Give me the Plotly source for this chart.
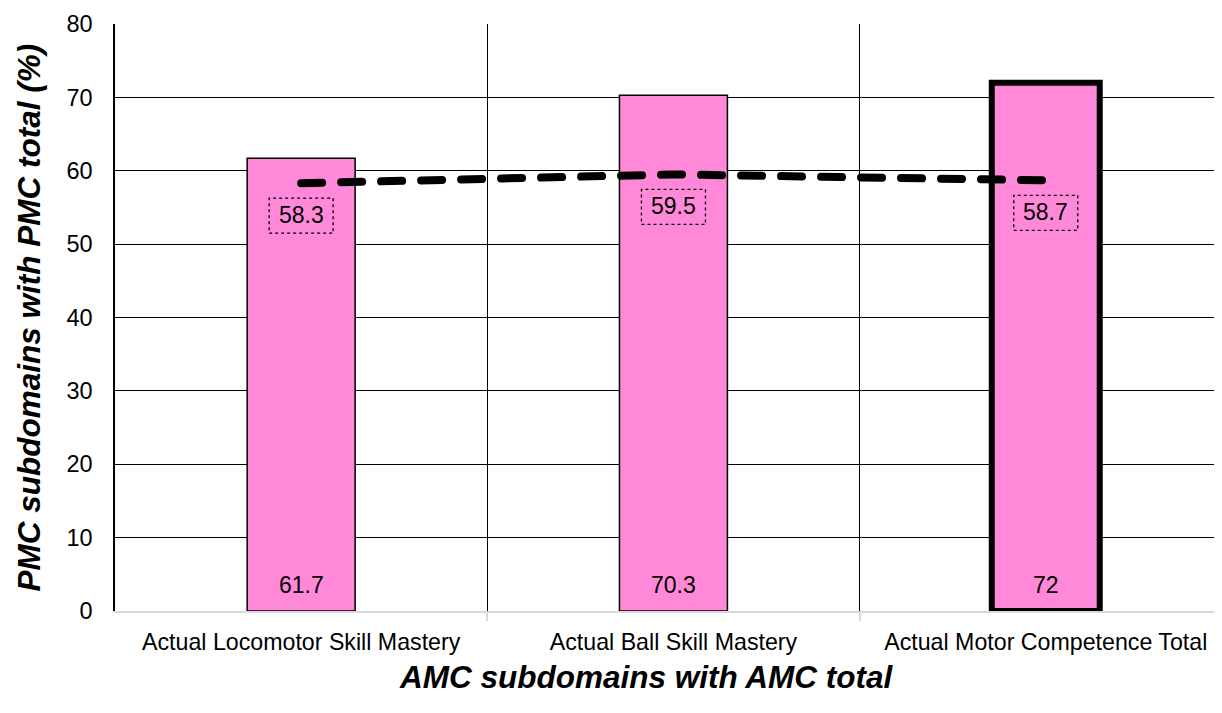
import plotly.graph_objects as go

categories = ["Actual Locomotor Skill Mastery", "Actual Ball Skill Mastery", "Actual Motor Competence Total"]
amc_values = [61.7, 70.3, 72]
pmc_values = [58.3, 59.5, 58.7]
bar_line_widths = [1.5, 1.5, 6]
y_ticks = [0, 10, 20, 30, 40, 50, 60, 70, 80]

FONT = "Liberation Sans, Arial, sans-serif"
PINK = "#FF89D8"

# the page body adds an 8px offset; margins compensate for it
OFF = 8
W, H = 1222, 713
ML, MR, MT = 115 - OFF, 0, 24 - OFF
PH = 587
MB = H - MT - PH
PW = W - ML - MR
CAT_W = 372.3

xpos = list(range(len(categories)))

fig = go.Figure()
fig.add_trace(go.Bar(
    x=xpos, y=amc_values, width=0.29,
    marker=dict(color=PINK, line=dict(color="black", width=bar_line_widths)),
    hoverinfo="skip", showlegend=False,
))
fig.add_trace(go.Scatter(
    x=xpos, y=pmc_values, mode="lines",
    line=dict(color="black", width=8, dash="21px,19px"),
    hoverinfo="skip", showlegend=False,
))

annotations = []
shapes = []
for i, v in enumerate(amc_values):
    annotations.append(dict(x=i, y=0, xref="x", yref="y", text=f"{v:g}", showarrow=False,
                            yanchor="bottom", yshift=11, font=dict(family=FONT, size=23, color="black")))
for i, v in enumerate(pmc_values):
    annotations.append(dict(x=i, y=v, xref="x", yref="y", text=f"{v:g}", showarrow=False,
                            yanchor="middle", yshift=-32, font=dict(family=FONT, size=23, color="black")))
    shapes.append(dict(type="rect", xref="x", yref="y", xsizemode="pixel", ysizemode="pixel",
                       xanchor=i, yanchor=v, x0=-32, x1=32, y0=-50, y1=-15,
                       line=dict(color="black", width=1.3, dash="dot"), fillcolor="rgba(0,0,0,0)"))

title_font = dict(family=FONT, size=31.5, weight="bold", style="italic", color="black")
annotations.append(dict(text="PMC subdomains with PMC total (%)", textangle=-90, showarrow=False,
                        xref="paper", yref="paper", x=(28 - OFF - ML) / PW, y=0.5,
                        xanchor="center", yanchor="middle", font=title_font))
annotations.append(dict(text="AMC subdomains with AMC total", showarrow=False,
                        xref="paper", yref="paper", x=(646 - OFF - ML) / PW,
                        y=-(677 - OFF - (MT + PH)) / PH,
                        xanchor="center", yanchor="middle", font=title_font))

fig.update_layout(
    width=W, height=H,
    margin=dict(l=ML, r=MR, t=MT, b=MB, autoexpand=False),
    paper_bgcolor="white", plot_bgcolor="white",
    font=dict(family=FONT, size=23, color="black"),
    annotations=annotations, shapes=shapes,
    xaxis=dict(
        range=[-0.5, -0.5 + PW / CAT_W],
        tickmode="array", tickvals=xpos, ticktext=categories,
        tickfont=dict(family=FONT, size=23.2, color="black"),
        ticks="", showgrid=False, zeroline=False, automargin=False,
        showline=True, linecolor="#d9d9d9", linewidth=1.5,
        ticklabelstandoff=9,
        minor=dict(tickvals=[i + 0.5 for i in xpos], showgrid=True, gridcolor="black", gridwidth=1.3,
                   ticks="outside", ticklen=8, tickcolor="#d9d9d9", tickwidth=1.5),
    ),
    yaxis=dict(
        range=[0, 80], tickmode="array", tickvals=y_ticks,
        tickfont=dict(family=FONT, size=23.5, color="black"),
        ticks="", showgrid=True, gridcolor="black", gridwidth=1.3, zeroline=False, automargin=False,
        showline=True, linecolor="black", linewidth=1.5,
        ticklabelstandoff=16,
    ),
)

round_caps_js = """
var gd = document.getElementById('{plot_id}');
function roundCaps() {
  gd.querySelectorAll('.scatterlayer path.js-line').forEach(function (p) {
    p.style.strokeLinecap = 'round';
  });
}
roundCaps();
gd.on('plotly_afterplot', roundCaps);
"""

fig.write_html("out.html", post_script=round_caps_js)
